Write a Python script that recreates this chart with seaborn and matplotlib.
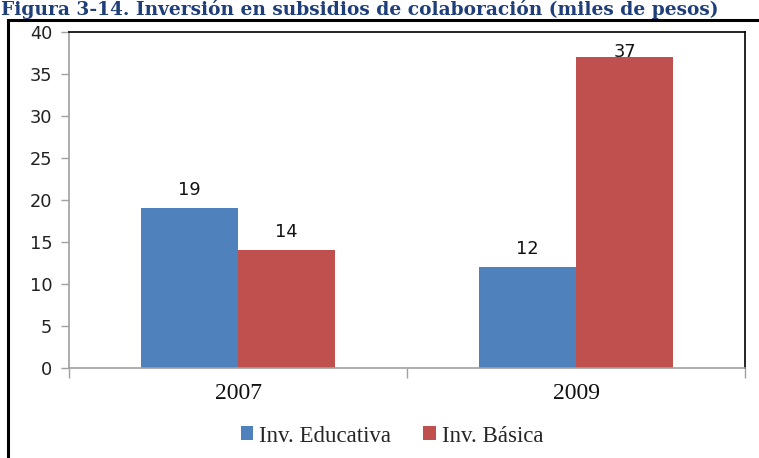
import matplotlib
matplotlib.use("Agg")
import matplotlib.pyplot as plt
import seaborn as sns
import pandas as pd
from matplotlib.patches import Rectangle

# Chart data
years = ["2007", "2009"]
series = ["Inv. Educativa", "Inv. Básica"]
educativa = [19, 12]
basica = [14, 37]
y_ticks = [0, 5, 10, 15, 20, 25, 30, 35, 40]
title = "Figura 3-14. Inversión en subsidios de colaboración (miles de pesos)"

colors = ["#4F81BD", "#C0504D"]

df = pd.DataFrame({
    "year": years * 2,
    "serie": [series[0]] * len(years) + [series[1]] * len(years),
    "value": educativa + basica,
})

sns.set_theme(style="white")
plt.rcParams["font.family"] = ["DejaVu Sans"]

W, H = 759, 458
fig = plt.figure(figsize=(W / 100, H / 100), dpi=100)
ax = fig.add_axes([69 / W, 1 - 368 / H, (745 - 69) / W, (368 - 32) / H])

sns.barplot(data=df, x="year", y="value", hue="serie", palette=colors,
            width=0.574, gap=0, saturation=1, ax=ax, legend=True,
            edgecolor="none", linewidth=0)

ax.set_xlim(-0.5, 1.5)
ax.set_ylim(0, 40)
ax.set_yticks(y_ticks)
ax.set_yticklabels([str(t) for t in y_ticks], fontsize=12.8, color="#222222")
ax.set_xlabel("")
ax.set_ylabel("")

# category boundaries carry the tick marks, labels sit between them
ax.set_xticks([-0.5, 0.5, 1.5])
ax.set_xticklabels([])
ax.set_xticks([0, 1], minor=True)
ax.set_xticklabels(years, minor=True, fontsize=17,
                   family="Liberation Serif", color="#111111")
ax.tick_params(axis="x", which="major", length=7, width=1, color="#A0A0A0",
               direction="out", bottom=True)
ax.tick_params(axis="x", which="minor", length=0, pad=11, bottom=True)
ax.tick_params(axis="y", length=6, width=1, color="#A0A0A0",
               direction="out", left=True, pad=6)

for side in ["left", "bottom"]:
    ax.spines[side].set_color("#A0A0A0")
    ax.spines[side].set_linewidth(1.2)
for side in ["top", "right"]:
    ax.spines[side].set_color("black")
    ax.spines[side].set_linewidth(1.2)

# value labels above each bar, kept inside the plot area
for cont in ax.containers:
    for p in cont:
        v = p.get_height()
        ax.text(p.get_x() + p.get_width() / 2, min(v + 2.2, 37.6), f"{v:g}",
                ha="center", va="center", fontsize=12.8, color="#111111")

leg = ax.legend(loc="center", bbox_to_anchor=(392 / W, 1 - 436 / H),
                bbox_transform=fig.transFigure, ncol=2, frameon=False,
                handlelength=0.55, handleheight=0.55, handletextpad=0.25,
                columnspacing=1.4,
                prop={"family": "Liberation Serif", "size": 16.5})

# outer chart frame
fig.add_artist(Rectangle((8 / W, -0.1), 1.5, (H - 20) / H + 0.1,
                         transform=fig.transFigure, fill=False,
                         edgecolor="black", linewidth=2.2, clip_on=False))

fig.text(1 / W, 1 - 15 / H, title, ha="left", va="baseline",
         fontsize=13.4, fontweight="bold", family="DejaVu Serif",
         color="#1F3F7A")

fig.savefig("out.png", dpi=100)
